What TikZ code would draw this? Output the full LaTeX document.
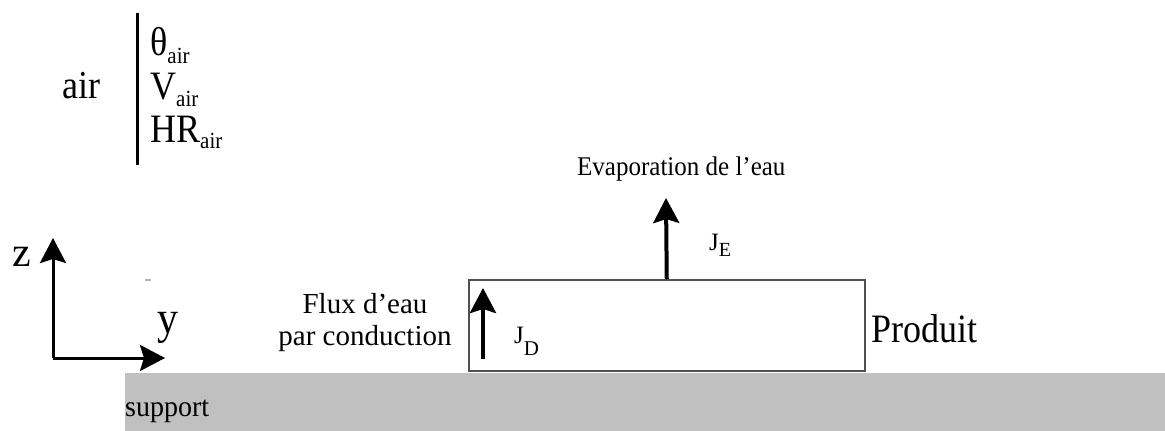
\documentclass[tikz,border=0pt]{standalone}
\usepackage{fontspec}
\setmainfont{Liberation Serif}
\usetikzlibrary{arrows.meta}
\definecolor{supgray}{RGB}{192,192,192}
\definecolor{boxgray}{RGB}{80,80,80}
\newcommand{\fs}[1]{\fontsize{#1}{#1}\selectfont}
\newcommand{\vs}[2]{\scalebox{1}[#1]{#2}}
\tikzset{
  lbl/.style={inner sep=0pt, anchor=base west},
  big/.style={lbl, font=\fs{36}},
  small/.style={lbl, font=\fs{28}},
  flux/.style={line width=4pt, -{Stealth[length=25pt,width=26pt,inset=4pt]}},
  axis/.style={line width=3pt, -{Stealth[length=25pt,width=26pt,inset=4pt]}},
}
\begin{document}
\begin{tikzpicture}[x=1pt,y=-1pt]
\useasboundingbox (0,0) rectangle (1165,431);
% support
\fill[supgray] (125,373) rectangle (1165,431);
\node[small] (sup) at (125,416) {\vs{1.05}{support}};
% product
\node[draw=boxgray, line width=1.5pt, minimum width=396pt, minimum height=91pt, inner sep=0pt, anchor=north west] (box) at (468,279) {};
\node[big] (prod) at (871,342) {\vs{1.12}{Produit}};
% air
\node[big] (air) at (62,98) {\vs{1.1}{air}};
\coordinate (vtop) at (137,13);
\coordinate (vbot) at (137,165);
\draw[line width=3pt] (vtop) -- (vbot);
\node[big] (th) at (150,55) {\vs{1.12}{θ}\raisebox{-8pt}{\fs{21}\vs{1.1}{air}}};
\node[big] (va) at (150,99) {\vs{1.12}{V}\raisebox{-7pt}{\fs{21}\vs{1.1}{air}}};
\node[big] (hr) at (150,142) {\vs{1.12}{HR}\raisebox{-6pt}{\fs{21}\vs{1.1}{air}}};
% evaporation
\node[lbl, font=\fs{25}] (evap) at (577,175) {\vs{1.08}{Evaporation de l’eau}};
\coordinate (jetip) at (666,198);
\draw[flux] (box.north) -- (jetip);
\node[lbl, font=\fs{25}] (je) at (709,250) {J\raisebox{-6pt}{\fs{20}E}};
% conduction
\coordinate (jdbot) at (483,359);
\coordinate (jdtip) at (483,288);
\draw[flux] (jdbot) -- (jdtip);
\node[lbl, font=\fs{25}] (jd) at (514,343) {J\raisebox{-12pt}{\fs{21}D}};
\node[lbl, font=\fs{29}, anchor=base] (fl1) at (365,313) {Flux d’eau};
\node[lbl, font=\fs{29}, anchor=base] (fl2) at (365,345) {par conduction};
% axes
\coordinate (o) at (53,358);
\coordinate (zt) at (53,238);
\coordinate (yt) at (165,358);
\draw[axis] (o) -- (zt);
\draw[axis] (o) -- (yt);
\node[lbl, font=\fs{42}] (zl) at (12,266) {z};
\node[lbl, font=\fs{42}] (yl) at (157,333) {\vs{1.1}{y}};
\coordinate (a1) at (145,280);
\coordinate (a2) at (151,280);
\draw[gray!60, line width=1.5pt] (a1) -- (a2);
\end{tikzpicture}
\end{document}
